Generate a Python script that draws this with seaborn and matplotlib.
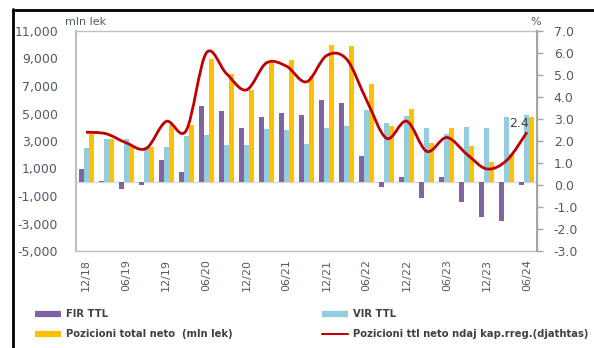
import numpy as np
import pandas as pd
import matplotlib
matplotlib.use("Agg")
import matplotlib.pyplot as plt
from matplotlib.path import Path
from matplotlib.patches import PathPatch
from matplotlib.lines import Line2D
from matplotlib.ticker import FuncFormatter
import seaborn as sns

# Quarterly data, 12/2018 - 06/2024
quarters = ["12/18", "03/19", "06/19", "09/19", "12/19", "03/20", "06/20", "09/20",
            "12/20", "03/21", "06/21", "09/21", "12/21", "03/22", "06/22", "09/22",
            "12/22", "03/23", "06/23", "09/23", "12/23", "03/24", "06/24"]

# mln lek (left axis)
fir_ttl = [1000, 70, -500, -200, 1650, 750, 5550, 5180, 3970, 4770, 5040, 4870,
           6000, 5790, 1890, -360, 400, -1160, 360, -1450, -2550, -2830, -170]
vir_ttl = [2470, 3150, 3150, 2530, 2530, 3370, 3420, 2690, 2690, 3880, 3810, 2780,
           3920, 4100, 5230, 4310, 4820, 3920, 3510, 4000, 3970, 4770, 4890]
pozicioni_neto = [3530, 3150, 2640, 2530, 4170, 4150, 8960, 7900, 6710, 8700, 8890, 7730,
                  9980, 9930, 7150, 4120, 5310, 2840, 3920, 2620, 1480, 2060, 4730]

# % of regulatory capital (right axis)
neto_kapital = [2.4, 2.33, 1.92, 1.66, 2.89, 2.48, 6.0, 5.07, 4.32, 5.55, 5.4, 4.69,
                5.88, 5.72, 3.85, 2.12, 2.9, 1.53, 2.16, 1.4, 0.73, 1.13, 2.4]

series_names = ["FIR TTL", "VIR TTL", "Pozicioni total neto  (mln lek)"]
line_name = "Pozicioni ttl neto ndaj kap.rreg.(djathtas)"
colors = ["#8064A2", "#93CDDD", "#FFC000"]
line_color = "#C00000"
text_color = "#4F5B6B"
axis_grey = "#BFBFBF"

sns.set_theme(style="white")
plt.rcParams["font.family"] = ["DejaVu Sans"]

W, H = 594, 348
fig = plt.figure(figsize=(W / 100, H / 100), dpi=100)
x0, x1, y0, y1 = 76, 537, 31, 251
ax = fig.add_axes([x0 / W, 1 - y1 / H, (x1 - x0) / W, (y1 - y0) / H])

df = pd.DataFrame({
    "quarter": quarters * 3,
    "series": [s for s in series_names for _ in quarters],
    "value": fir_ttl + vir_ttl + pozicioni_neto,
})

ax.axhline(0, color="#D9D9D9", lw=1, zorder=0)
sns.barplot(data=df, x="quarter", y="value", hue="series", order=quarters,
            hue_order=series_names, palette=colors, saturation=1, width=0.75,
            errorbar=None, legend=False, ax=ax, zorder=2, linewidth=0,
            edgecolor="none")

ax.set_xlim(-0.5, len(quarters) - 0.5)
ax.set_ylim(-5000, 11000)
ax.set_yticks(np.arange(-5000, 11001, 2000))
ax.yaxis.set_major_formatter(FuncFormatter(lambda v, p: f"{v:,.0f}"))
ax.set_xticks(np.arange(0, len(quarters), 2))
ax.set_xticklabels(quarters[::2], rotation=90)
ax.set_xlabel("")
ax.set_ylabel("")
ax.tick_params(axis="y", length=0, pad=13, labelsize=9, labelcolor=text_color)
ax.tick_params(axis="x", length=0, pad=6, labelsize=8, labelcolor=text_color)
for side in ["left", "right", "top", "bottom"]:
    ax.spines[side].set_color(axis_grey)
    ax.spines[side].set_linewidth(1)
ax.spines["left"].set_linewidth(1.5)

# Right axis: smoothed line
ax2 = ax.twinx()
ax2.set_ylim(-3, 7)
ax2.set_yticks(np.arange(-3, 7.1, 1))
ax2.yaxis.set_major_formatter(FuncFormatter(lambda v, p: f"{v:.1f}"))
ax2.tick_params(axis="y", direction="out", length=4, width=1, color="#A6A6A6",
                pad=8, labelsize=9, labelcolor=text_color)
ax2.grid(False)
for side in ["left", "top", "bottom"]:
    ax2.spines[side].set_visible(False)
ax2.spines["right"].set_color("#A6A6A6")
ax2.spines["right"].set_linewidth(1.5)

pts = np.column_stack([np.arange(len(neto_kapital)), neto_kapital]).astype(float)
ext = np.vstack([pts[0], pts, pts[-1]])
verts = [tuple(pts[0])]
codes = [Path.MOVETO]
for i in range(len(pts) - 1):
    p0, p1, p2, p3 = ext[i], ext[i + 1], ext[i + 2], ext[i + 3]
    c1 = p1 + (p2 - p0) / 6
    c2 = p2 - (p3 - p1) / 6
    verts += [tuple(c1), tuple(c2), tuple(p2)]
    codes += [Path.CURVE4] * 3
ax2.add_patch(PathPatch(Path(verts, codes), facecolor="none", edgecolor=line_color,
                        lw=2, transform=ax2.transData, zorder=3))

ax2.annotate(f"{neto_kapital[-1]:.1f}", xy=(len(neto_kapital) - 1, neto_kapital[-1]),
             xytext=(-8, 9), textcoords="offset pixels", ha="center", va="center",
             fontsize=9, color="#404040")

# Axis unit captions
fig.text(65 / W, 1 - 22 / H, "mln lek", fontsize=8, color=text_color, va="center", ha="left")
fig.text(536 / W, 1 - 22 / H, "%", fontsize=8, color=text_color, va="center", ha="center")

# Frame around the chart
fig.add_artist(Line2D([13 / W, 13 / W], [0, 1 - 9 / H], transform=fig.transFigure,
                      color="black", lw=2))
fig.add_artist(Line2D([13 / W, 1], [1 - 10 / H, 1 - 10 / H], transform=fig.transFigure,
                      color="black", lw=2))

# Legend in two columns
def bar_handle(c):
    return Line2D([], [], color=c, lw=4.5, solid_capstyle="butt")

leg_kw = dict(loc="upper left", frameon=False, handlelength=2.6,
              handletextpad=0.5, labelspacing=1.0, borderaxespad=0, borderpad=0,
              prop={"weight": "bold", "size": 7.2})
leg1 = fig.legend([bar_handle(colors[0]), bar_handle(colors[2])],
                  [series_names[0], series_names[2]],
                  bbox_to_anchor=(35 / W, 1 - 309 / H), **leg_kw)
leg2 = fig.legend([bar_handle(colors[1]), Line2D([], [], color=line_color, lw=1.5)],
                  [series_names[1], line_name],
                  bbox_to_anchor=(322 / W, 1 - 309 / H), **leg_kw)
for leg in (leg1, leg2):
    for t in leg.get_texts():
        t.set_color("#404040")

fig.savefig("out.png", dpi=100)
